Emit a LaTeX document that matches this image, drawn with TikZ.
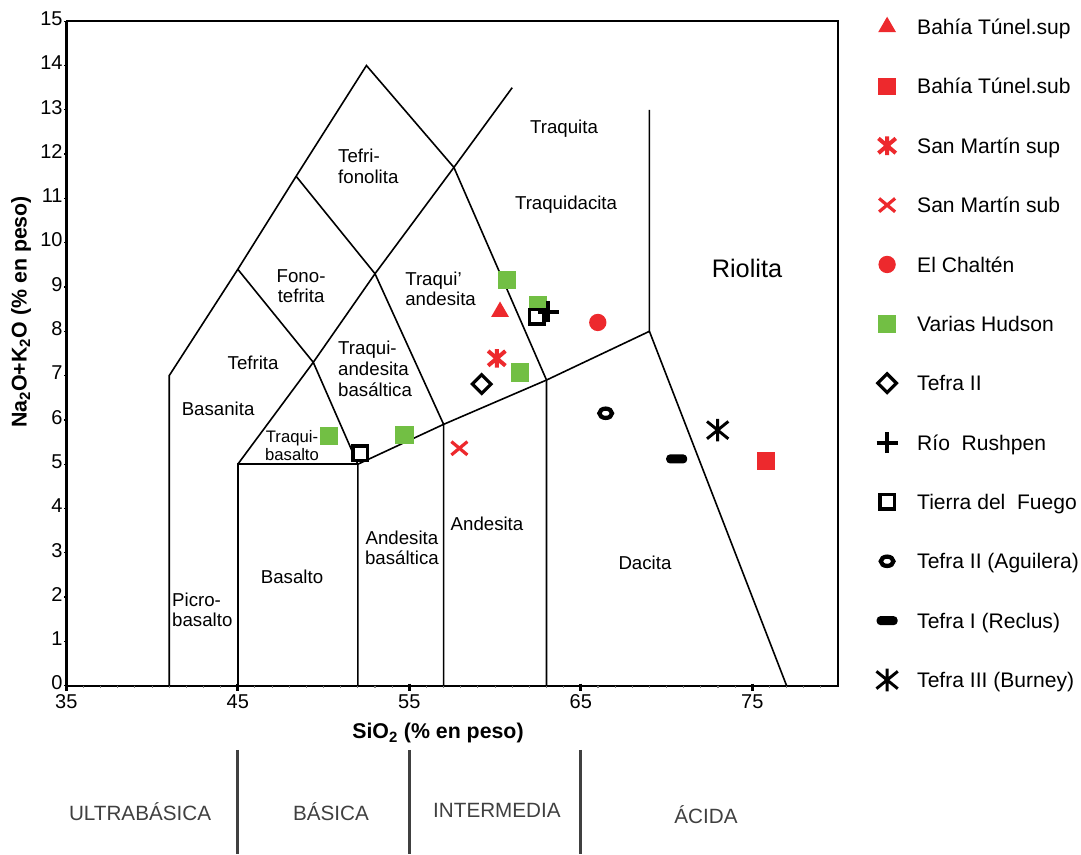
\documentclass[tikz,border=0pt]{standalone}
\usepackage{fontspec}
\setmainfont{Liberation Sans}
\usetikzlibrary{shapes.geometric,shapes.misc}
\definecolor{tasred}{RGB}{237,41,45}
\definecolor{tasgreen}{RGB}{114,191,68}
\definecolor{clsgray}{RGB}{64,64,64}
\tikzset{
  bnd/.style={line width=1.2pt,black},
  rock/.style={font=\fontsize{14}{15.5}\selectfont,align=center,inner sep=0pt},
  tlab/.style={font=\fontsize{15}{17}\selectfont,inner sep=0pt},
  atit/.style={font=\bfseries\fontsize{16}{18}\selectfont,inner sep=0pt},
  clab/.style={font=\fontsize{15.5}{18}\selectfont,text=clsgray,inner sep=0pt},
  legtxt/.style={font=\fontsize{15.8}{18}\selectfont,anchor=base west,yshift=-5.7pt,inner sep=0pt},
  mk/.style={inner sep=0pt,outer sep=0pt},
  tri/.style={mk,regular polygon,regular polygon sides=3,fill=tasred,minimum size=15.5pt},
  redsq/.style={mk,rectangle,fill=tasred,minimum size=13.3pt},
  redx/.style={mk,cross out,draw=tasred,line width=2.4pt,minimum width=12pt,minimum height=10pt},
  reddot/.style={mk,circle,fill=tasred,minimum size=13pt},
  grnsq/.style={mk,rectangle,fill=tasgreen,minimum size=13.8pt},
  dmd/.style={mk,diamond,draw,fill=white,line width=2.4pt,minimum size=14pt},
  rplus/.style={mk,cross out,draw,line width=3pt,minimum size=11.1pt,rotate=45},
  opensq/.style={mk,rectangle,draw,fill=white,line width=2.6pt,minimum size=10.9pt},
  oring/.style={mk,ellipse,draw,line width=3.2pt,minimum width=9.5pt,minimum height=7pt},
  blkbar/.style={mk,rectangle,fill=black,rounded corners=3pt,minimum width=15.8pt,minimum height=6.8pt},
  redast/.pic={\draw[tasred,line width=3pt] (0pt,7pt) -- (0pt,-7pt) (-6.5pt,-5.5pt) -- (6.5pt,5.5pt) (-6.5pt,5.5pt) -- (6.5pt,-5.5pt);},
  blkast/.pic={\draw[line width=2.2pt] (0pt,8.5pt) -- (0pt,-8.5pt) (-8pt,-6.5pt) -- (8pt,6.5pt) (-8pt,6.5pt) -- (8pt,-6.5pt);}
}
\begin{document}
\begin{tikzpicture}[x=12.8625pt,y=33.225pt]
  \useasboundingbox (31.134,-3.799) rectangle (94.166,15.479);
  \draw[line width=1.2pt] (35,0) rectangle (80,15);
  \draw[line width=2pt] (35,0) -- (35,15);
  \foreach \x in {36,...,79} \draw[gray,line width=0.8pt] (\x,0) -- (\x,-0.06);
  \foreach \x in {35,45,...,75} {
    \draw[line width=2pt] (\x,0.05) -- (\x,-0.12);
    \node[tlab,anchor=north] (xt\x) at (\x,-0.19) {\x};
  }
  \foreach \y in {0,...,15} {
    \draw[line width=1pt] (35,\y) -- (34.88,\y);
    \node[tlab,anchor=east,yshift=2pt] (yt\y) at (34.8,\y) {\y};
  }
  \draw[bnd] (41,0) -- (41,7) -- (45,9.4) -- (48.4,11.5) -- (52.5,14) -- (57.6,11.7) -- (63,6.9) -- (63,0);
  \draw[bnd] (45,9.4) -- (49.4,7.3) -- (52,5) -- (52,0);
  \draw[bnd] (48.4,11.5) -- (53,9.3) -- (57,5.9) -- (57,0);
  \draw[bnd] (45,5) -- (49.4,7.3) -- (53,9.3) -- (57.6,11.7) -- (61,13.5);
  \draw[bnd] (52,5) -- (57,5.9) -- (63,6.9) -- (69,8) -- (69,13);
  \draw[bnd] (69,8) -- (77,0);
  \draw[bnd,line width=1.8pt] (45,0) -- (45,5) -- (52,5);
  \node[rock,anchor=west,align=left] (tefrifon) at (50.84,11.73) {Tefri-\\fonolita};
  \node[rock] (fonotef) at (48.69,9.02) {Fono-\\tefrita};
  \node[rock] (tefrita) at (45.89,7.28) {Tefrita};
  \node[rock] (basanita) at (43.85,6.25) {Basanita};
  \node[rock,font=\fontsize{12.5}{13.5}\selectfont] (trbas) at (48.16,5.43) {Traqui-\\basalto};
  \node[rock] (basalto) at (48.16,2.45) {Basalto};
  \node[rock,anchor=west,align=left] (picro) at (41.16,1.71) {Picro-\\basalto};
  \node[rock,anchor=west,align=left] (trandbas) at (50.84,7.15) {Traqui-\\andesita\\basáltica};
  \node[rock,anchor=west,align=left] (trand) at (54.75,8.96) {Traqui'\\andesita};
  \node[rock] (traquita) at (64.02,12.57) {Traquita};
  \node[rock] (trdac) at (64.14,10.87) {Traquidacita};
  \node[rock,font=\fontsize{19}{21}\selectfont] (riolita) at (74.69,9.43) {Riolita};
  \node[rock] (andbas) at (54.57,3.11) {Andesita\\basáltica};
  \node[rock] (andesita) at (59.53,3.65) {Andesita};
  \node[rock] (dacita) at (68.74,2.77) {Dacita};
  \node[atit] (xtitle) at (56.67,-1.068) {SiO\textsubscript{2} (\% en peso)};
  \node[atit,rotate=90] (ytitle) at (32.36,8.436) {Na\textsubscript{2}O+K\textsubscript{2}O (\% en peso)};
  \foreach \x in {45,55,65} \draw[line width=2.2pt,clsgray] (\x,-1.45) -- (\x,-3.8);
  \node[clab] (ultra) at (39.30,-2.851) {ULTRABÁSICA};
  \node[clab] (basica) at (50.43,-2.851) {BÁSICA};
  \node[clab] (interm) at (60.11,-2.806) {INTERMEDIA};
  \node[clab] (acida) at (72.30,-2.917) {ÁCIDA};
  \node[tri] (bts) at (60.29,8.44) {};
  \node[redsq] (btb) at (75.78,5.07) {};
  \pic at (60.10,7.39) {redast};
  \node[redx] (smb) at (57.92,5.36) {};
  \node[reddot] (elch) at (65.99,8.20) {};
  \foreach \x/\y [count=\i] in {60.68/9.16,62.49/8.59,61.47/7.07,54.71/5.66,50.32/5.64}
    \node[grnsq] (hud\i) at (\x,\y) {};
  \node[dmd] (tef2) at (59.22,6.81) {};
  \node[opensq] (tdf1) at (52.13,5.25) {};
  \node[opensq] (tdf2) at (62.43,8.33) {};
  \node[rplus] (rush) at (63.11,8.44) {};
  \node[oring] (agui) at (66.45,6.15) {};
  \node[blkbar] (recl) at (70.59,5.12) {};
  \pic at (72.98,5.77) {blkast};
  \foreach \mk/\i in {tri/0,redsq/1,redx/3,reddot/4,grnsq/5,dmd/6,rplus/7,opensq/8,oring/9,blkbar/10}
    \node[\mk] (key\i) at (82.86,{14.869-1.34*\i}) {};
  \pic at (82.86,12.189) {redast};
  \pic at (82.86,0.129) {blkast};
  \foreach \lab [count=\i from 0] in {Bahía Túnel.sup,Bahía Túnel.sub,San Martín sup,San Martín sub,El Chaltén,Varias Hudson,Tefra II,Río~~Rushpen,Tierra del~~Fuego,Tefra II (Aguilera),Tefra I (Reclus),Tefra III (Burney)}
    \node[legtxt] (leg\i) at (84.60,{14.869-1.34*\i}) {\lab};
\end{tikzpicture}
\end{document}
